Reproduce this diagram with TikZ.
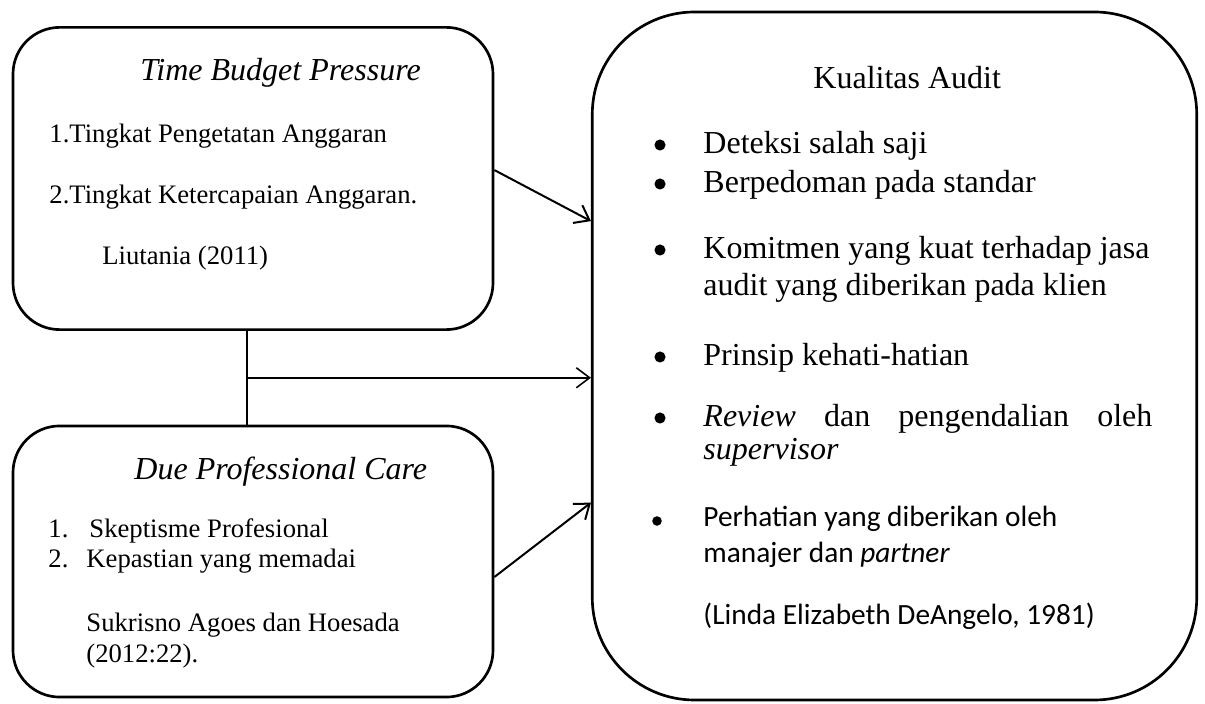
\documentclass[tikz,border=0pt]{standalone}
\usepackage{fontspec}
\setmainfont{Liberation Serif}
\newfontfamily\calibri{Carlito}
\usetikzlibrary{arrows.meta,calc}

\tikzset{
  box/.style={draw, line width=1.2pt, rounded corners=21pt, inner sep=0pt},
  txt/.style={anchor=base west, inner sep=0pt, font=\fontsize{12}{14}\selectfont},
  head/.style={anchor=base west, inner sep=0pt, font=\fontsize{14.4}{17}\selectfont},
  sans/.style={anchor=base west, inner sep=0pt, font=\fontsize{13.2}{15}\calibri},
  dot/.style={circle, fill, inner sep=0pt, minimum size=5pt},
  arr/.style={-{Straight Barb[length=6pt,width=9pt]}, line width=0.9pt}
}

\begin{document}
\begin{tikzpicture}[x=0.45pt,y=-0.45pt]
\useasboundingbox (0,0) rectangle (1205,704);

% boxes
\node[box, minimum width=216pt, minimum height=136pt] at (253,178.5) (tbp) {};
\node[box, minimum width=216pt, minimum height=122pt] at (253,561.5) (dpc) {};
\node[box, rounded corners=46pt, minimum width=272pt, minimum height=309.6pt] at (894.5,356) (ka) {};

% time budget pressure
\node[head, font=\fontsize{14.4}{17}\selectfont\itshape] at (140,81) (tbpT) {Time Budget Pressure};
\node[txt] at (49,143) (tbp1) {1.Tingkat Pengetatan Anggaran};
\node[txt] at (49,204) (tbp2) {2.Tingkat Ketercapaian Anggaran.};
\node[txt] at (102,265) (tbpR) {Liutania (2011)};

% due professional care
\node[head, font=\fontsize{14.4}{17}\selectfont\itshape] at (134,480) (dpcT) {Due Professional Care};
\node[txt] at (48,538) (dpcN1) {1.};
\node[txt] at (89,538) (dpc1) {Skeptisme Profesional};
\node[txt] at (48,568) (dpcN2) {2.};
\node[txt] at (86,568) (dpc2) {Kepastian yang memadai};
\node[txt] at (86,632) (dpcR1) {Sukrisno Agoes dan Hoesada};
\node[txt] at (86,662) (dpcR2) {(2012:22).};

% kualitas audit
\node[head] at (813,89) (kaT) {Kualitas Audit};
\node[dot] at (660,145) (b1) {};
\node[head] at (703,154) (ka1) {Deteksi salah saji};
\node[dot] at (660,184) (b2) {};
\node[head] at (703,193) (ka2) {Berpedoman pada standar};
\node[dot] at (660,250) (b3) {};
\node[head] at (703,259) (ka3a) {Komitmen yang kuat terhadap jasa};
\node[head] at (703,296) (ka3b) {audit yang diberikan pada klien};
\node[dot] at (660,357) (b4) {};
\node[head] at (703,366) (ka4) {Prinsip kehati-hatian};
\node[dot] at (660,418) (b5) {};
\node[head] at (703,427) (ka5a) {\hbox to 202pt{\textit{Review}\hfill dan\hfill pengendalian\hfill oleh}};
\node[head] at (703,460) (ka5b) {\textit{supervisor}};
\node[dot, minimum size=4.3pt] at (657,521) (b6) {};
\node[sans] at (703,527) (ka6a) {Perhatian yang diberikan oleh};
\node[sans] at (703,563) (ka6b) {manajer dan \textit{partner}};
\node[sans] at (703,625) (kaR) {(Linda Elizabeth DeAngelo, 1981)};

% connectors
\coordinate (j) at ($([xshift=-2.7pt]tbp.south)!0.5!([xshift=-2.7pt]dpc.north)$);
\draw[line width=0.8pt] ([xshift=-2.7pt]tbp.south) -- ([xshift=-2.7pt]dpc.north);
\draw[arr, line width=0.7pt] (j) -- (j -| ka.west);
\draw[arr] ([yshift=3.8pt]tbp.east) -- ([yshift=60.7pt]ka.west);
\draw[arr] ([yshift=-7pt]dpc.east) -- ([yshift=-66pt]ka.west);
\end{tikzpicture}
\end{document}
